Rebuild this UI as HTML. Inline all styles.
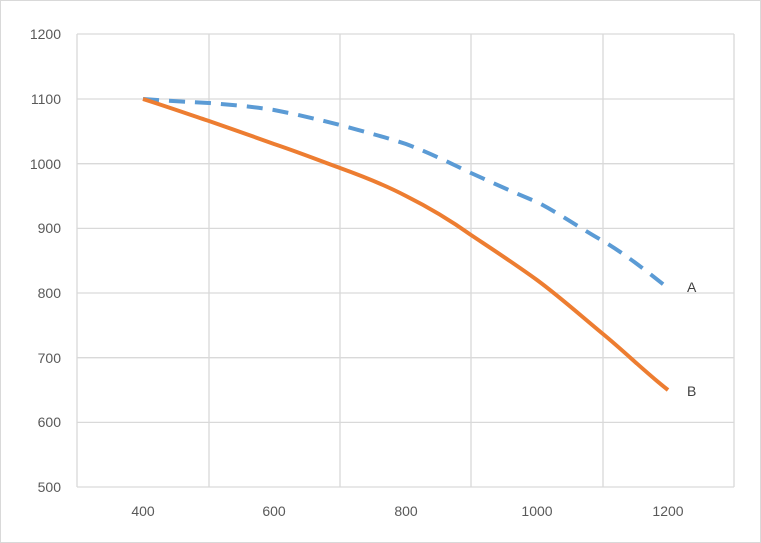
<!DOCTYPE html>
<html><head><style>
body{margin:0;background:#fff;}
svg{display:block;font-family:"Liberation Sans",sans-serif;}
</style></head><body>
<svg width="761" height="543" viewBox="0 0 761 543">
<rect x="0.5" y="0.5" width="760" height="542" fill="#fff" stroke="#d9d9d9"/>
<g stroke="#d9d9d9" stroke-width="1.3" fill="none">
<line x1="77" y1="34" x2="734" y2="34"/>
<line x1="77" y1="99" x2="734" y2="99"/>
<line x1="77" y1="163.7" x2="734" y2="163.7"/>
<line x1="77" y1="228.4" x2="734" y2="228.4"/>
<line x1="77" y1="293" x2="734" y2="293"/>
<line x1="77" y1="357.7" x2="734" y2="357.7"/>
<line x1="77" y1="422.4" x2="734" y2="422.4"/>
<line x1="77" y1="487" x2="734" y2="487"/>
<line x1="77" y1="34" x2="77" y2="487"/>
<line x1="209" y1="34" x2="209" y2="487"/>
<line x1="340" y1="34" x2="340" y2="487"/>
<line x1="471" y1="34" x2="471" y2="487"/>
<line x1="603" y1="34" x2="603" y2="487"/>
<line x1="734" y1="34" x2="734" y2="487"/>
</g>
<g fill="#595959" font-size="14" text-anchor="end">
<text x="61" y="39">1200</text><text x="61" y="104">1100</text><text x="61" y="169">1000</text>
<text x="61" y="233">900</text><text x="61" y="298">800</text><text x="61" y="363">700</text>
<text x="61" y="427">600</text><text x="61" y="492">500</text>
</g>
<g fill="#595959" font-size="14" text-anchor="middle">
<text x="143" y="516">400</text><text x="274" y="516">600</text><text x="406" y="516">800</text>
<text x="537" y="516">1000</text><text x="668" y="516">1200</text>
</g>
<path d="M143,99 C170,101 190,102 209,103 C235,105 255,107 274,110 C300,115 320,120 340,125 C365,132 385,137 406,144 C430,153 450,163 471,173 C495,184 515,193 537,202 C560,214 580,228 603,241 C625,254 645,270 668,288" fill="none" stroke="#5b9bd5" stroke-width="4" stroke-dasharray="16,10"/>
<path d="M143,99 C165,106 188,114 209,121 C232,129 252,136 274,144 C298,152 318,160 340,168 C365,177 385,185 406,196 C430,208 450,220 471,235 C495,251 515,264 537,280 C560,297 580,315 603,334 C625,352 645,372 668,390" fill="none" stroke="#ed7d31" stroke-width="4"/>
<text x="687" y="292" font-size="14" fill="#404040">A</text>
<text x="687" y="396" font-size="14" fill="#404040">B</text>
</svg>
</body></html>
